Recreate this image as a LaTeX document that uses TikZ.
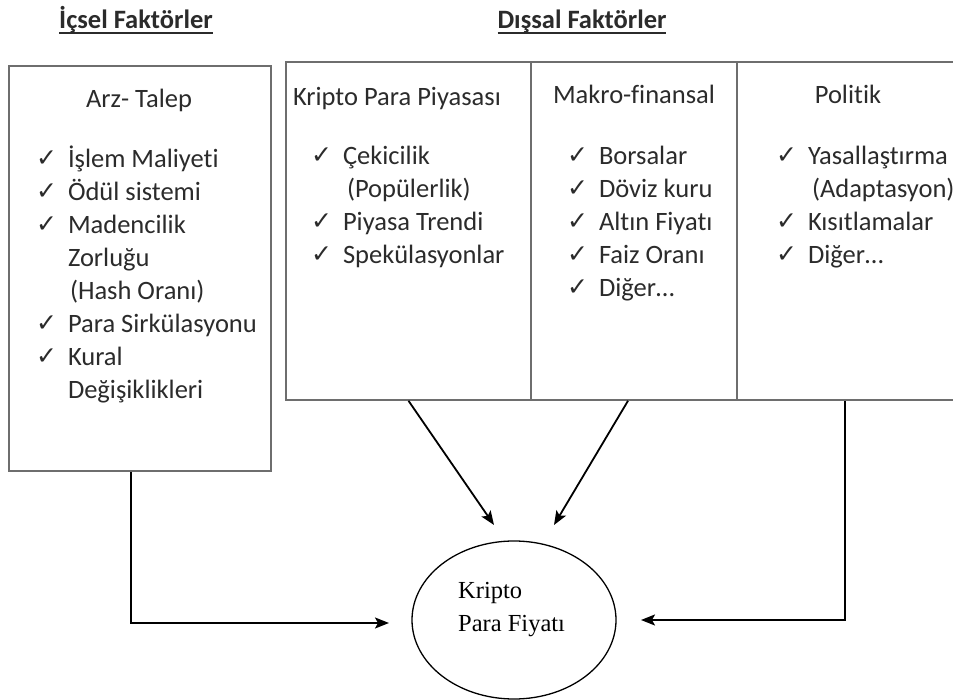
\documentclass[tikz,border=0pt]{standalone}
\usepackage{fontspec}
\setmainfont{Carlito}[Ligatures=NoCommon]
\newfontfamily\serifface{Liberation Serif}
\newfontfamily\symface{DejaVu Sans}
\usetikzlibrary{arrows.meta,calc,shapes.geometric}

\definecolor{ink}{HTML}{2B2B2B}
\definecolor{frame}{HTML}{6E6E6E}

% check mark and list helpers
\newcommand{\tick}{\raisebox{1pt}{\symface\fontsize{25}{25}\selectfont ✓}}
\newcommand{\itm}[1]{\makebox[31pt][l]{\hspace{-1pt}\tick}#1}
\newcommand{\cnt}[1]{\hspace{31pt}#1}
\newcommand{\bodyfont}{\fontsize{26.5}{33}\selectfont}

\begin{document}
\begin{tikzpicture}[x=1pt,y=-1pt,
  txt/.style={inner sep=0pt,outer sep=0pt,text=ink,font=\bodyfont},
  head/.style={txt,font=\bodyfont\bfseries},
  panel/.style={draw=frame,line width=1.6pt,inner sep=0pt},
  ul/.style={draw=ink,line width=1.6pt},
  arr/.style={draw=black,line width=1.8pt,-{Stealth[length=14pt,width=11pt,inset=3pt]}},
  link/.style={draw=black,line width=1.8pt}]
\useasboundingbox (0,0) rectangle (953,700);
\clip (0,0) rectangle (953,700);

% section titles
\node[head,anchor=base] (ic) at (136,29) {İçsel Faktörler};
\node[head,anchor=base] (dis) at (582,29) {Dışsal Faktörler};
\draw[ul] ([yshift=-4pt]ic.base west) -- ([yshift=-4pt]ic.base east);
\draw[ul] ([yshift=-4pt]dis.base west) -- ([yshift=-4pt]dis.base east);

% internal factors box
\node[panel,minimum width=262pt,minimum height=405pt] (arz) at (140,268.5) {};
\node[txt,anchor=base] (arzh) at (139,108) {Arz- Talep};
\node[txt,anchor=base west] (arzl) at (37,168) {\begin{tabular}[t]{@{}l@{}}
\itm{İşlem Maliyeti}\\
\itm{Ödül sistemi}\\
\itm{Madencilik}\\
\cnt{Zorluğu}\\
\cnt{\hspace{2pt}(Hash Oranı)}\\
\itm{Para Sirkülasyonu}\\
\itm{Kural}\\
\cnt{Değişiklikleri}
\end{tabular}};

% external factors: three adjoining columns
\node[panel,minimum width=245pt,minimum height=338pt] (kpp) at (408.5,231) {};
\node[panel,minimum width=206pt,minimum height=338pt] (mak) at (634,231) {};
\node[panel,minimum width=230pt,minimum height=338pt] (pol) at (852,231) {};

\node[txt,anchor=base west] (kpph) at (293,106) {Kripto Para Piyasası};
\node[txt,anchor=base west] (kppl) at (312,165) {\begin{tabular}[t]{@{}l@{}}
\itm{Çekicilik}\\
\cnt{\hspace{4pt}(Popülerlik)}\\
\itm{Piyasa Trendi}\\
\itm{Spekülasyonlar}
\end{tabular}};

\node[txt,anchor=base] (makh) at (634,104) {Makro-finansal};
\node[txt,anchor=base west] (makl) at (568,165) {\begin{tabular}[t]{@{}l@{}}
\itm{Borsalar}\\
\itm{Döviz kuru}\\
\itm{Altın Fiyatı}\\
\itm{Faiz Oranı}\\
\itm{Diğer…}
\end{tabular}};

\node[txt,anchor=base] (polh) at (848,104) {Politik};
\node[txt,anchor=base west] (poll) at (777,165) {\begin{tabular}[t]{@{}l@{}}
\itm{Yasallaştırma}\\
\cnt{\hspace{4pt}(Adaptasyon)}\\
\itm{Kısıtlamalar}\\
\itm{Diğer…}
\end{tabular}};

% target: crypto price
\node[draw=black,line width=1.3pt,ellipse,minimum width=204pt,minimum height=158pt,inner sep=0pt] (fiyat) at (514,620) {};
\node[inner sep=0pt,anchor=base west,text=black,font=\serifface\fontsize{24.5}{33}\selectfont] (fiyatl) at (458,598) {\begin{tabular}[t]{@{}l@{}}Kripto\\Para Fiyatı\end{tabular}};

% connectors
\coordinate (a1) at (494,525);
\coordinate (a2) at (554,525);
\coordinate (lc) at (131,623);
\coordinate (la) at (389,623);
\coordinate (rc) at (845,620);
\coordinate (ra) at (641,620);

\draw[arr] (kpp.south) -- (a1);
\draw[arr] ([xshift=-6pt]mak.south) -- (a2);
\draw[arr] (arz.south -| lc) -- (lc) -- (la);
\draw[arr] (pol.south -| rc) -- (rc) -- (ra);
\end{tikzpicture}
\end{document}
